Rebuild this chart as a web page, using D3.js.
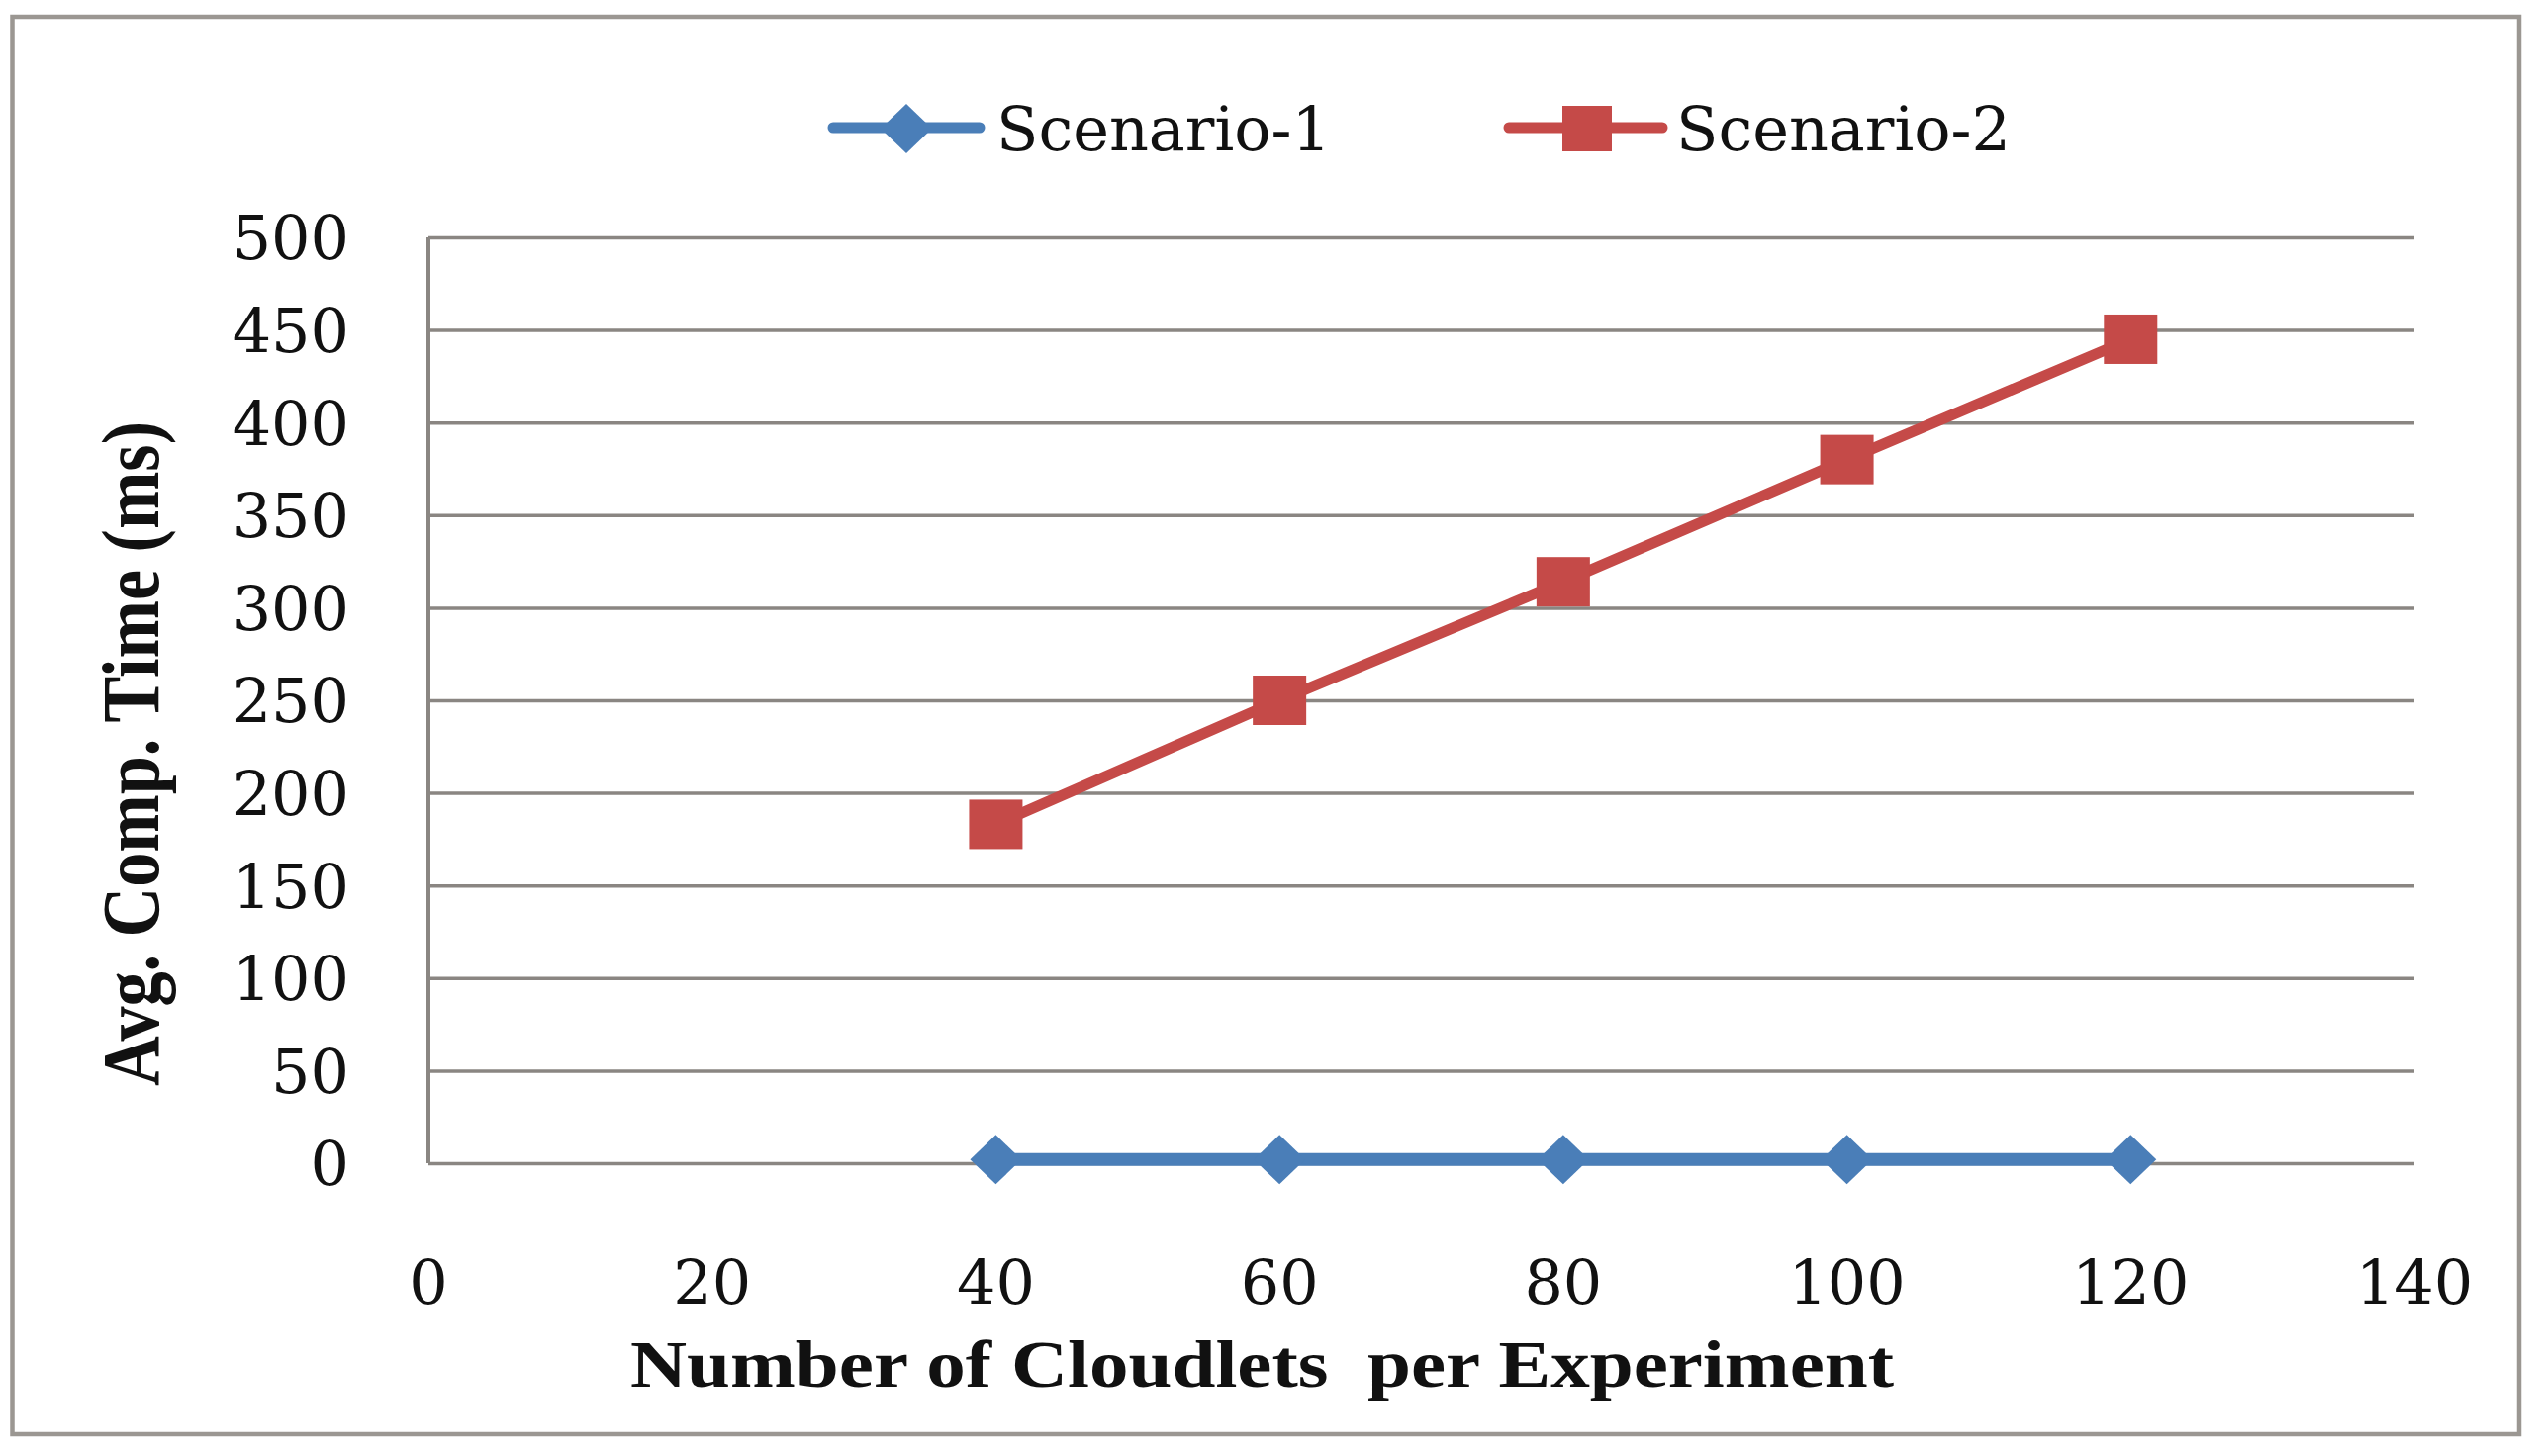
<!DOCTYPE html>
<html>
<head>
<meta charset="utf-8">
<script src="https://cdn.jsdelivr.net/npm/d3@7"></script>
<style>
  html, body { margin: 0; padding: 0; background: #ffffff; }
  svg { display: block; }
</style>
</head>
<body>
<script>
// ---- data ----
const xValues = [40, 60, 80, 100, 120];
const scenario1 = [2, 2, 2, 2, 2];
const scenario2 = [183, 250, 314, 380, 445];
const seriesNames = ["Scenario-1", "Scenario-2"];
const yTicks = [0, 50, 100, 150, 200, 250, 300, 350, 400, 450, 500];
const xTicks = [0, 20, 40, 60, 80, 100, 120, 140];
const xTitle = "Number of Cloudlets  per Experiment";
const yTitle = "Avg. Comp. Time (ms)";

const W = 2564, H = 1472;
const blue = "#4a7eb8", red = "#c54a48", grid = "#8a8682";

const svg = d3.select("body").append("svg").attr("width", W).attr("height", H);
svg.append("rect").attr("width", W).attr("height", H).attr("fill", "#fff");

// outer border
svg.append("rect").attr("x", 12.5).attr("y", 17).attr("width", 2533.5).attr("height", 1433)
  .attr("fill", "none").attr("stroke", "#9b9792").attr("stroke-width", 4.5);

const x = d3.scaleLinear().domain([0, 140]).range([433, 2440]);
const y = d3.scaleLinear().domain([0, 500]).range([1176, 240]);

// gridlines
const gAx = svg.append("g").attr("transform", `translate(${x(0)},0)`)
  .call(d3.axisLeft(y).tickValues(yTicks).tickSize(-(x(140) - x(0))).tickFormat(""));
gAx.select(".domain").remove();
gAx.selectAll(".tick line").attr("stroke", grid).attr("stroke-width", 3.5);

// y axis line
svg.append("line").attr("x1", x(0)).attr("x2", x(0)).attr("y1", y(500)).attr("y2", y(0))
  .attr("stroke", grid).attr("stroke-width", 4);

// y tick labels
svg.append("g").selectAll("text").data(yTicks).join("text")
  .attr("x", 353).attr("y", d => y(d)).attr("dy", "0.36em")
  .attr("text-anchor", "end")
  .attr("font-family", "'DejaVu Serif', serif").attr("font-size", 62).attr("fill", "#111")
  .text(d => d);

// x tick labels
svg.append("g").selectAll("text").data(xTicks).join("text")
  .attr("x", d => x(d)).attr("y", 1318)
  .attr("text-anchor", "middle")
  .attr("font-family", "'DejaVu Serif', serif").attr("font-size", 62).attr("fill", "#111")
  .text(d => d);

// axis titles
svg.append("text").attr("x", 637).attr("y", 1402)
  .attr("textLength", 1277).attr("lengthAdjust", "spacingAndGlyphs")
  .attr("font-family", "'Liberation Serif', serif").attr("font-weight", "bold")
  .attr("font-size", 68).attr("fill", "#111").style("white-space", "pre")
  .text(xTitle);

svg.append("text").attr("transform", "translate(160,762) rotate(-90)")
  .attr("text-anchor", "middle")
  .attr("textLength", 672).attr("lengthAdjust", "spacingAndGlyphs")
  .attr("font-family", "'Liberation Serif', serif").attr("font-weight", "bold")
  .attr("font-size", 82).attr("fill", "#111")
  .text(yTitle);

// series
const line = d3.line().x(d => x(d[0])).y(d => y(d[1]));
const s1 = xValues.map((v, i) => [v, scenario1[i]]);
const s2 = xValues.map((v, i) => [v, scenario2[i]]);

svg.append("path").datum(s1).attr("d", line).attr("fill", "none")
  .attr("stroke", blue).attr("stroke-width", 13);
svg.append("path").datum(s2).attr("d", line).attr("fill", "none")
  .attr("stroke", red).attr("stroke-width", 11);

const diamond = "M0,-25L26,0L0,25L-26,0Z";
svg.append("g").selectAll("path").data(s1).join("path")
  .attr("d", diamond).attr("fill", blue)
  .attr("transform", d => `translate(${x(d[0])},${y(d[1])})`);

svg.append("g").selectAll("rect").data(s2).join("rect")
  .attr("x", d => x(d[0]) - 27).attr("y", d => y(d[1]) - 25)
  .attr("width", 54).attr("height", 50).attr("fill", red);

// legend
const leg = svg.append("g");
leg.append("line").attr("x1", 842).attr("x2", 990).attr("y1", 129).attr("y2", 129)
  .attr("stroke", blue).attr("stroke-width", 11).attr("stroke-linecap", "round");
leg.append("path").attr("d", diamond).attr("fill", blue).attr("transform", "translate(916,130)");
leg.append("text").attr("x", 1007).attr("y", 152)
  .attr("font-family", "'DejaVu Serif', serif").attr("font-size", 62).attr("fill", "#111")
  .text(seriesNames[0]);

leg.append("line").attr("x1", 1525).attr("x2", 1680).attr("y1", 129).attr("y2", 129)
  .attr("stroke", red).attr("stroke-width", 11).attr("stroke-linecap", "round");
leg.append("rect").attr("x", 1579).attr("y", 107).attr("width", 50).attr("height", 46).attr("fill", red);
leg.append("text").attr("x", 1694).attr("y", 152)
  .attr("font-family", "'DejaVu Serif', serif").attr("font-size", 62).attr("fill", "#111")
  .text(seriesNames[1]);
</script>
</body>
</html>
